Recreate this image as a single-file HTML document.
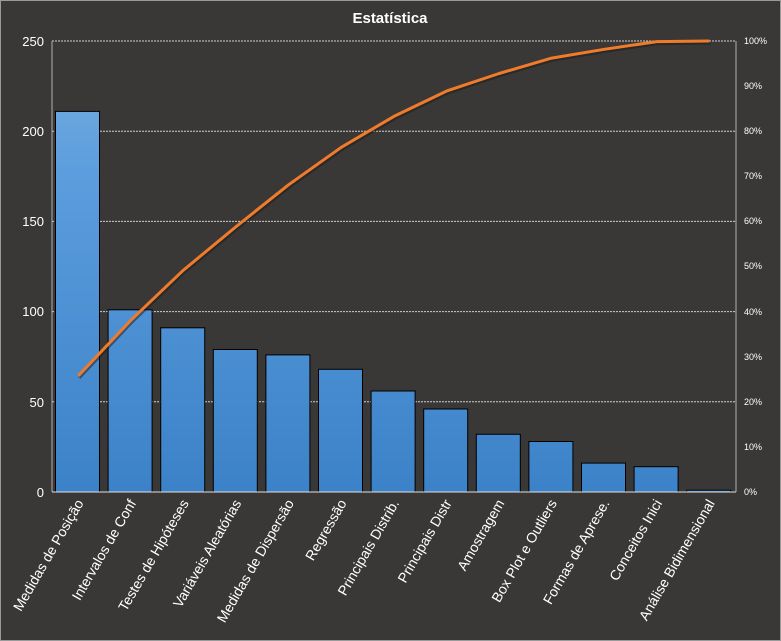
<!DOCTYPE html>
<html><head><meta charset="utf-8"><style>
html,body{margin:0;padding:0;background:#393836}
svg{display:block}
text{font-family:"Liberation Sans",sans-serif;fill:#fff}
</style></head><body>
<svg width="781" height="641" viewBox="0 0 781 641">
<defs>
<linearGradient id="g" gradientUnits="userSpaceOnUse" x1="0" y1="41" x2="0" y2="492">
<stop offset="0" stop-color="#7aaee0"/><stop offset="0.3" stop-color="#5b9ddd"/><stop offset="1" stop-color="#3c82c8"/>
</linearGradient>
</defs>
<rect x="0.5" y="0.5" width="780" height="640" fill="#393836" stroke="#9a9a9a"/>
<text x="390" y="23" text-anchor="middle" font-size="15" font-weight="bold">Estatística</text>
<g stroke="#cfcfcf" stroke-width="1" stroke-dasharray="2,1">
<line x1="52" y1="41" x2="736" y2="41"/><line x1="52" y1="131.2" x2="736" y2="131.2"/>
<line x1="52" y1="221.4" x2="736" y2="221.4"/><line x1="52" y1="311.6" x2="736" y2="311.6"/>
<line x1="52" y1="401.8" x2="736" y2="401.8"/>
</g>
<g stroke="#b0b0b0"><line x1="52" y1="41" x2="52" y2="492"/><line x1="736" y1="41" x2="736" y2="492"/></g>
<g font-size="13" text-anchor="end">
<text x="44" y="46">250</text><text x="44" y="136">200</text><text x="44" y="226">150</text>
<text x="44" y="316">100</text><text x="44" y="407">50</text><text x="44" y="497">0</text>
</g>
<g font-size="9">
<text x="744" y="44">100%</text><text x="744" y="89">90%</text><text x="744" y="134">80%</text>
<text x="744" y="179">70%</text><text x="744" y="224">60%</text><text x="744" y="269">50%</text>
<text x="744" y="315">40%</text><text x="744" y="360">30%</text><text x="744" y="405">20%</text>
<text x="744" y="450">10%</text><text x="744" y="495">0%</text>
</g>
<g fill="url(#g)" stroke="#000" stroke-width="1">
<rect x="55.5" y="111.4" width="44" height="380.6"/>
<rect x="108.1" y="309.8" width="44" height="182.2"/>
<rect x="160.7" y="327.8" width="44" height="164.2"/>
<rect x="213.3" y="349.5" width="44" height="142.5"/>
<rect x="265.9" y="354.9" width="44" height="137.1"/>
<rect x="318.5" y="369.3" width="44" height="122.7"/>
<rect x="371.1" y="391" width="44" height="101"/>
<rect x="423.7" y="409" width="44" height="83"/>
<rect x="476.3" y="434.3" width="44" height="57.7"/>
<rect x="528.9" y="441.5" width="44" height="50.5"/>
<rect x="581.5" y="463.1" width="44" height="28.9"/>
<rect x="634.1" y="466.7" width="44" height="25.3"/>
<rect x="686.7" y="490.2" width="44" height="1.8"/>
</g>
<line x1="52" y1="492" x2="736" y2="492" stroke="#e0e0e0"/>
<polyline fill="none" stroke="#1a1a1a" stroke-opacity="0.5" stroke-width="3" transform="translate(1,2)" points="78.3,375.8 130.9,320.2 183.5,270.1 236.1,226.6 288.7,184.7 341.3,147.3 393.9,116.4 446.5,91.1 499.1,73.5 551.7,58.1 604.3,49.3 656.9,41.6 709.5,41"/>
<polyline fill="none" stroke="#f07b2b" stroke-width="3" stroke-linejoin="round" points="78.3,375.8 130.9,320.2 183.5,270.1 236.1,226.6 288.7,184.7 341.3,147.3 393.9,116.4 446.5,91.1 499.1,73.5 551.7,58.1 604.3,49.3 656.9,41.6 709.5,41"/>
<g font-size="14" text-anchor="end">
<text transform="translate(84,503) rotate(-60)">Medidas de Posição</text>
<text transform="translate(136.6,503) rotate(-60)">Intervalos de Conf</text>
<text transform="translate(189.2,503) rotate(-60)">Testes de Hipóteses</text>
<text transform="translate(241.8,503) rotate(-60)">Variáveis Aleatórias</text>
<text transform="translate(294.4,503) rotate(-60)">Medidas de Dispersão</text>
<text transform="translate(347,503) rotate(-60)">Regressão</text>
<text transform="translate(399.6,503) rotate(-60)">Principais Distrib.</text>
<text transform="translate(452.2,503) rotate(-60)">Principais Distr</text>
<text transform="translate(504.8,503) rotate(-60)">Amostragem</text>
<text transform="translate(557.4,503) rotate(-60)">Box Plot e Outliers</text>
<text transform="translate(610,503) rotate(-60)">Formas de Aprese.</text>
<text transform="translate(662.6,503) rotate(-60)">Conceitos Inici</text>
<text transform="translate(715.2,503) rotate(-60)">Análise Bidimensional</text>
</g>
</svg>
</body></html>
